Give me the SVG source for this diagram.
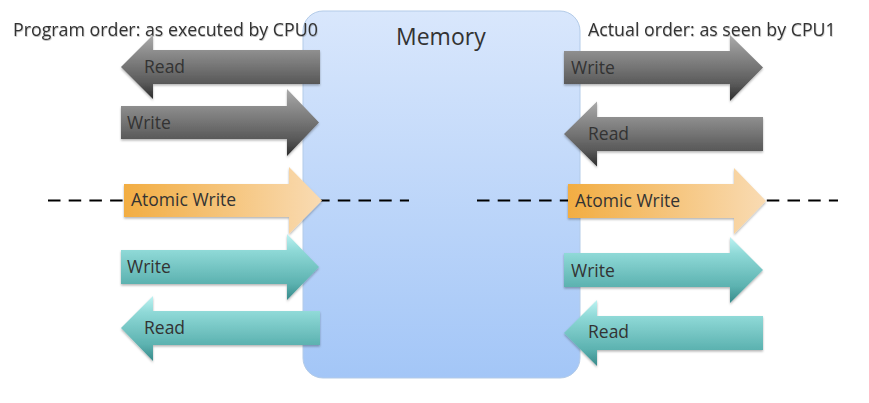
<svg xmlns="http://www.w3.org/2000/svg" width="869" height="403" viewBox="0 0 869 403">
<defs>
<linearGradient id="gMem" x1="0" y1="0" x2="0" y2="1"><stop offset="0" stop-color="#d9e7fc"/><stop offset="1" stop-color="#a3c6f7"/></linearGradient>
<linearGradient id="gGray" x1="0" y1="0" x2="0" y2="1"><stop offset="0" stop-color="#ababab"/><stop offset="0.25" stop-color="#8e8e8e"/><stop offset="0.75" stop-color="#595959"/><stop offset="1" stop-color="#2c2c2c"/></linearGradient>
<linearGradient id="gTeal" x1="0" y1="0" x2="0" y2="1"><stop offset="0" stop-color="#bdf2f2"/><stop offset="0.25" stop-color="#8fd9d7"/><stop offset="0.75" stop-color="#5cb2b0"/><stop offset="1" stop-color="#378a8a"/></linearGradient>
<linearGradient id="gOrange" x1="0" y1="0" x2="1" y2="0"><stop offset="0" stop-color="#f2ad42"/><stop offset="1" stop-color="#f9dbb3"/></linearGradient>
<filter id="sh" x="-5%" y="-10%" width="110%" height="125%"><feDropShadow dx="0" dy="1.5" stdDeviation="0.8" flood-color="#000" flood-opacity="0.3"/></filter>
<filter id="tsh" x="-5%" y="-20%" width="110%" height="150%"><feDropShadow dx="0.5" dy="1" stdDeviation="0.6" flood-color="#000" flood-opacity="0.25"/></filter>
</defs>
<style>
.lbl{font-family:"Open Sans","DejaVu Sans",sans-serif;font-size:17.5px;fill:#333}
.hdr{font-family:"Open Sans","DejaVu Sans",sans-serif;font-size:17.8px;fill:#333}
.mem{font-family:"Open Sans","DejaVu Sans",sans-serif;font-size:23px;fill:#333}
.dash{stroke:#000;stroke-width:2;stroke-dasharray:12.5 8.2;fill:none}
.gray{fill:url(#gGray);filter:url(#sh)}
.teal{fill:url(#gTeal);filter:url(#sh)}
.orange{fill:url(#gOrange);filter:url(#sh)}
</style>
<g id="memory">
<rect x="303" y="11" width="277" height="367" rx="20" fill="url(#gMem)" stroke="#b3cbe8" stroke-width="1"/>
<text class="mem" x="396" y="45">Memory</text>
</g>
<g id="headers">
<text class="hdr" x="13" y="36" filter="url(#tsh)">Program order: as executed by CPU0</text>
<text class="hdr" x="588" y="36" filter="url(#tsh)">Actual order: as seen by CPU1</text>
</g>
<g id="connectors">
<line class="dash" x1="48" y1="200.5" x2="409" y2="200.5"/>
<line class="dash" x1="477" y1="200.5" x2="838" y2="200.5"/>
</g>
<g id="cpu0-read1">
<path class="gray" d="M121,67 L153,35 L153,50 L320,50 L320,84 L153,84 L153,99 Z"/>
<text class="lbl" x="144" y="73">Read</text>
</g>
<g id="cpu0-write1">
<path class="gray" d="M121,106 L287,106 L287,89 L319,122.5 L287,156 L287,139 L121,139 Z"/>
<text class="lbl" x="127" y="129">Write</text>
</g>
<g id="cpu0-atomic">
<path class="orange" d="M124,184 L289,184 L289,167 L322,200.5 L289,234 L289,217 L124,217 Z"/>
<text class="lbl" x="131" y="206">Atomic Write</text>
</g>
<g id="cpu0-write2">
<path class="teal" d="M121,250 L287,250 L287,234 L319,267 L287,300 L287,284 L121,284 Z"/>
<text class="lbl" x="127" y="273">Write</text>
</g>
<g id="cpu0-read2">
<path class="teal" d="M121,328 L153,296 L153,311 L320,311 L320,345 L153,345 L153,361 Z"/>
<text class="lbl" x="144" y="334">Read</text>
</g>
<g id="cpu1-write1">
<path class="gray" d="M564,51 L730,51 L730,35 L763,67.5 L730,101 L730,84 L564,84 Z"/>
<text class="lbl" x="571" y="74">Write</text>
</g>
<g id="cpu1-read1">
<path class="gray" d="M564,134 L597,101.5 L597,117 L763,117 L763,151 L597,151 L597,166.5 Z"/>
<text class="lbl" x="588" y="140">Read</text>
</g>
<g id="cpu1-atomic">
<path class="orange" d="M568,184 L734,184 L734,168 L766,201 L734,234 L734,218 L568,218 Z"/>
<text class="lbl" x="575" y="207">Atomic Write</text>
</g>
<g id="cpu1-write2">
<path class="teal" d="M564,253 L730,253 L730,237 L763,270 L730,303 L730,287 L564,287 Z"/>
<text class="lbl" x="571" y="277">Write</text>
</g>
<g id="cpu1-read2">
<path class="teal" d="M564,333 L597,300 L597,316 L763,316 L763,350 L597,350 L597,366 Z"/>
<text class="lbl" x="588" y="338">Read</text>
</g>
</svg>
